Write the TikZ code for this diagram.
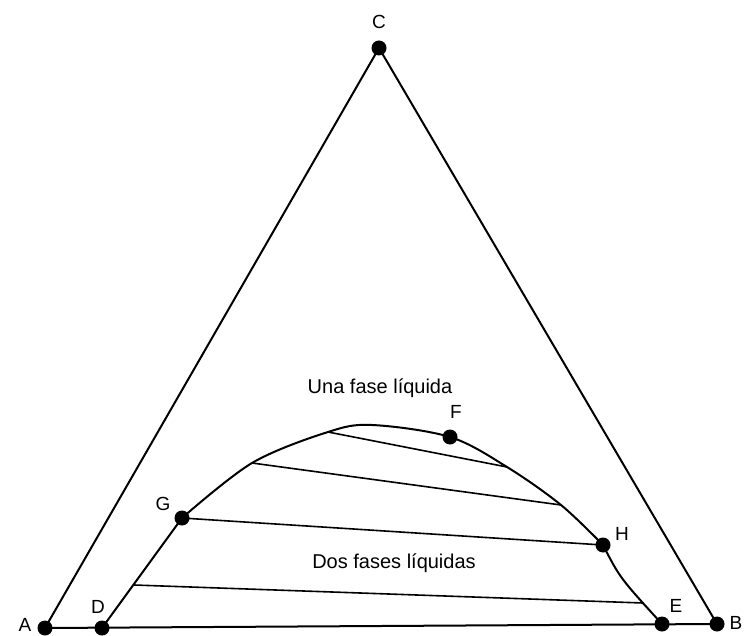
\documentclass[tikz,border=0pt]{standalone}
\usepackage{fontspec}
\setmainfont{Liberation Sans}
\begin{document}
\begin{tikzpicture}[x=1pt,y=-1pt,
  dot/.style={circle,fill=black,inner sep=0pt,minimum size=15pt},
  lab/.style={font=\fontsize{19}{19}\selectfont,inner sep=0pt},
  region/.style={font=\fontsize{20}{20}\selectfont,inner sep=0pt},
  side/.style={line width=2pt,line cap=round},
  tie/.style={line width=1.6pt}]
\useasboundingbox (0,0) rectangle (744,636);
% vertices and points
\node[dot] (A) at (45,628) {};
\node[dot] (B) at (717,624) {};
\node[dot] (C) at (379,48) {};
\node[dot] (D) at (102,628) {};
\node[dot] (E) at (662,624) {};
\node[dot] (F) at (450,437) {};
\node[dot] (G) at (182,518) {};
\node[dot] (H) at (603,545) {};
% tie-line ends on the curve
\coordinate (t1a) at (328,432);
\coordinate (t1b) at (507,467);
\coordinate (t2a) at (252,463);
\coordinate (t2b) at (561,505);
\coordinate (t4a) at (134,585);
\coordinate (t4b) at (643,603);
\coordinate (top) at (372,425);
% triangle
\draw[side] (A.center) -- (C.center) -- (B.center) -- cycle;
% binodal curve
\draw[side] (D.center) -- (G.center);
\draw[side] plot[smooth,tension=0.55] coordinates {(G.center) (t2a) (t1a) (top) (F.center) (t1b) (t2b) (H.center)};
\draw[side] (H.center) .. controls (620,578) .. (E.center);
% tie lines
\draw[tie] (t1a) -- (t1b);
\draw[tie] (t2a) -- (t2b);
\draw[tie] (G.center) -- (H.center);
\draw[tie] (t4a) -- (t4b);
% labels
\node[lab] (lA) at (25,625) {A};
\node[lab] (lB) at (736,623) {B};
\node[lab] (lC) at (379,22) {C};
\node[lab] (lD) at (98,607) {D};
\node[lab] (lE) at (676,606) {E};
\node[lab] (lF) at (456,412) {F};
\node[lab] (lG) at (163,504) {G};
\node[lab] (lH) at (622,534) {H};
\node[region] (una) at (380,388) {Una fase líquida};
\node[region] (dos) at (394,563) {Dos fases líquidas};
\end{tikzpicture}
\end{document}
